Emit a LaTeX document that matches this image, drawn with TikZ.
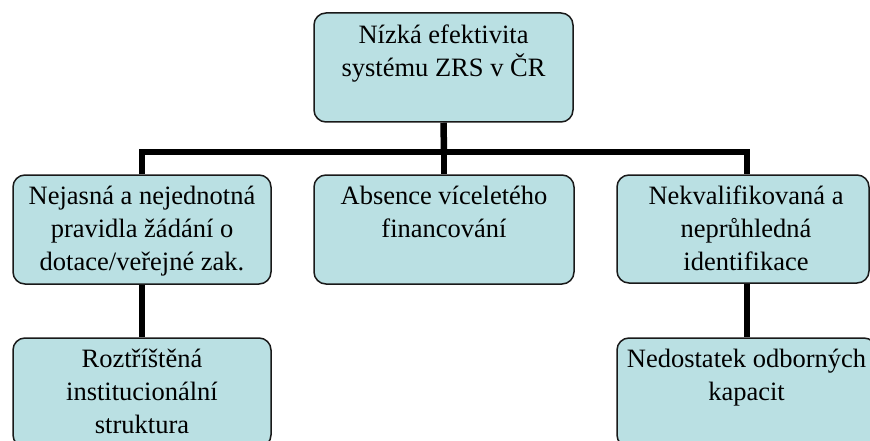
\documentclass[tikz,border=0pt]{standalone}
\usepackage{fontspec}
\setmainfont{Liberation Serif}
\usetikzlibrary{calc}
\definecolor{boxfill}{RGB}{186,224,227}
\tikzset{
  box/.style={draw=black!90, line width=1.5pt, fill=boxfill, rounded corners=12pt, inner sep=0pt},
  lbl/.style={anchor=north, align=center, inner sep=0pt, font=\fontsize{26.5}{33}\selectfont},
  conn/.style={line width=6.5pt, draw=black}
}
\begin{document}
\begin{tikzpicture}[x=1pt,y=-1pt]
\useasboundingbox (0,0) rectangle (870,441);
\clip (0,0) rectangle (870,441);
% boxes
\node[box, minimum width=259pt, minimum height=109pt] (top) at (443.5,67.5) {};
\node[box, minimum width=258pt, minimum height=109pt] (left) at (142,229.5) {};
\node[box, minimum width=260pt, minimum height=109pt] (mid) at (444,229.5) {};
\node[box, minimum width=252pt, minimum height=108pt] (right) at (743,229) {};
\node[box, minimum width=258pt, minimum height=109pt] (bl) at (142,392.5) {};
\node[box, minimum width=259pt, minimum height=109pt] (br) at (746.5,392.5) {};
% labels
\node[lbl] (ttop) at ($(top.north)+(0,8)$) {\strut Nízká efektivita\\systému ZRS v ČR};
\node[lbl] (tleft) at ($(left.north)+(0,7)$) {\strut Nejasná a nejednotná\\pravidla žádání o\\dotace/veřejné zak.};
\node[lbl] (tmid) at ($(mid.north)+(0,7)$) {\strut Absence víceletého\\financování};
\node[lbl] (tright) at ($(right.north)+(3,7)$) {\strut Nekvalifikovaná a\\neprůhledná\\identifikace};
\node[lbl] (tbl) at ($(bl.north)+(0,7)$) {\strut Roztříštěná\\institucionální\\struktura};
\node[lbl] (tbr) at ($(br.north)+(0,7)$) {\strut Nedostatek odborných\\kapacit};
% connectors
\coordinate (bar) at (444,152);
\draw[conn] (top.south) -- (bar);
\draw[conn] (left.north) |- (bar) -| ($(right.north)+(4,0)$);
\draw[conn] (bar) -- (mid.north);
\draw[conn] (left.south) -- (bl.north);
\draw[conn] ($(right.south)+(4,0)$) -- ($(br.north)+(0.5,0)$);
\end{tikzpicture}
\end{document}
